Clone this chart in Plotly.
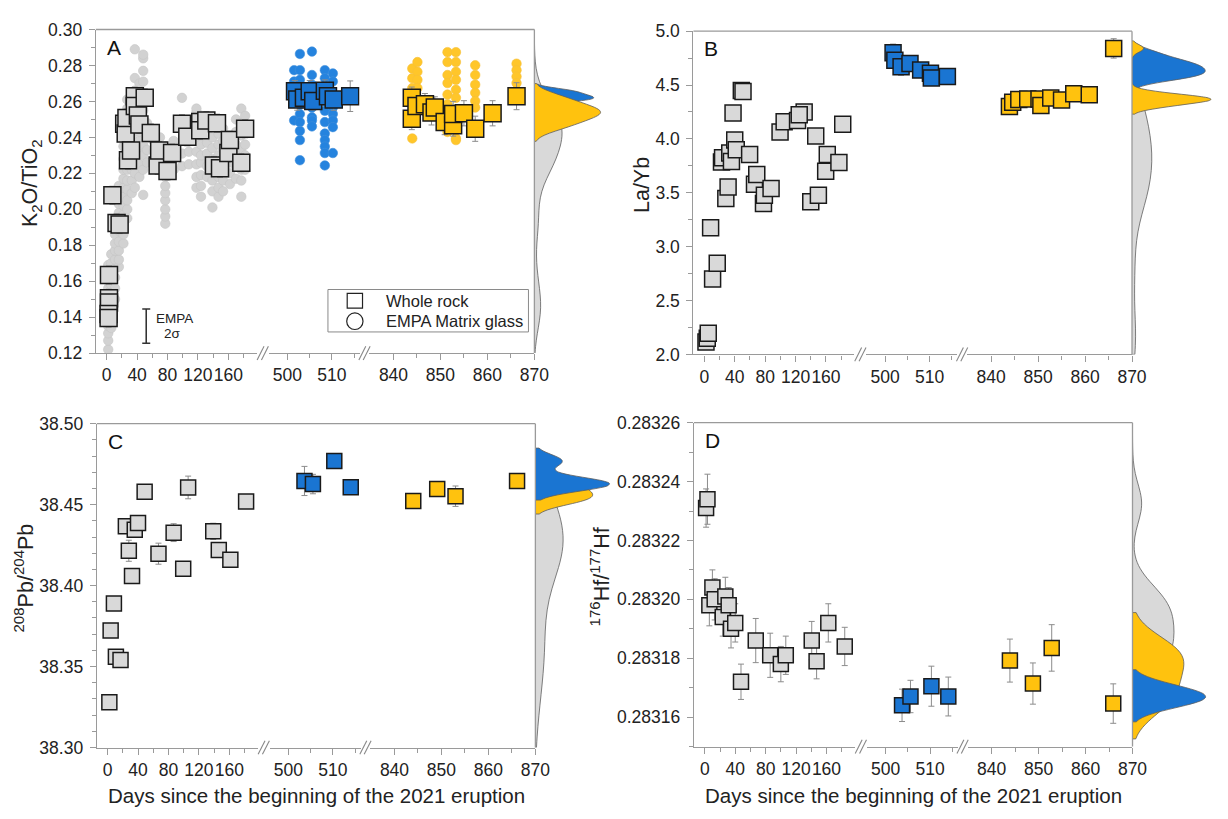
import plotly.graph_objects as go

W, H = 1228, 819

# ---------------- data ----------------
# Panel A: K2O/TiO2, whole rock (days, ratio, 2 s.e.)
a_gray_day = [3, 3, 3, 2.5, 2.5, 7.5, 13, 17, 23, 25, 26, 28, 32, 37, 37, 41, 43, 50, 58,
              67, 69, 80, 86, 99, 106, 123, 123, 131, 141, 145, 149, 160, 162, 177, 182]
a_gray_val = [0.1634, 0.1505, 0.1481, 0.1417, 0.1395, 0.2078, 0.1924, 0.1915, 0.2476, 0.2421,
              0.2508, 0.2273, 0.2327, 0.2629, 0.2575, 0.2521, 0.2472, 0.2620, 0.2425, 0.2244,
              0.2327, 0.2213, 0.2313, 0.2476, 0.2403, 0.2485, 0.2439, 0.2494, 0.2244, 0.2479,
              0.2228, 0.2313, 0.2385, 0.2259, 0.2448]
a_gray_err = [0.005] * len(a_gray_day)
a_blue_day = [501.7, 502.2, 503.7, 505.0, 505.8, 508.4, 509.1, 510.4, 514.1]
a_blue_val = [0.2656, 0.2611, 0.2620, 0.2656, 0.2602, 0.2660, 0.2629, 0.2611, 0.2629]
a_blue_err = [0.006, 0.006, 0.005, 0.006, 0.005, 0.006, 0.006, 0.006, 0.0085]
a_yel_day = [843.9, 843.9, 844.9, 846.7, 848.1, 848.8, 850.9, 852.7, 852.7, 855.0, 857.4, 861.1, 866.2]
a_yel_val = [0.2620, 0.2503, 0.2575, 0.2584, 0.2539, 0.2566, 0.2485, 0.2467, 0.2530, 0.2534,
             0.2448, 0.2534, 0.2629]
a_yel_err = [0.006, 0.006, 0.007, 0.006, 0.007, 0.006, 0.007, 0.006, 0.007, 0.007, 0.007, 0.007, 0.0075]

# Panel A: EMPA matrix glass, grouped by sampling day
glass_gray = [
    (2, [0.122, 0.127, 0.131, 0.135, 0.139, 0.144, 0.148, 0.152, 0.156, 0.160, 0.165, 0.169]),
    (6, [0.134, 0.141, 0.147, 0.153, 0.158, 0.164, 0.170, 0.175]),
    (11, [0.150, 0.156, 0.162, 0.167, 0.172, 0.177, 0.181, 0.186, 0.190]),
    (16, [0.168, 0.172, 0.177, 0.182, 0.188, 0.193, 0.198, 0.203, 0.208, 0.213]),
    (22, [0.181, 0.186, 0.192, 0.197, 0.202, 0.207, 0.212, 0.217, 0.222, 0.228, 0.235, 0.242, 0.249]),
    (27, [0.195, 0.200, 0.205, 0.211, 0.216, 0.222, 0.228, 0.233, 0.238, 0.244, 0.250, 0.256, 0.261]),
    (33, [0.209, 0.216, 0.222, 0.228, 0.234, 0.240, 0.246, 0.252, 0.258, 0.263]),
    (37, [0.212, 0.220, 0.228, 0.236, 0.244, 0.250, 0.256, 0.266, 0.273, 0.289]),
    (43, [0.218, 0.225, 0.231, 0.238, 0.243, 0.248, 0.255, 0.262, 0.270]),
    (48, [0.208, 0.222, 0.230, 0.236, 0.246, 0.255, 0.260, 0.264, 0.271, 0.277, 0.284, 0.286]),
    (53, [0.226, 0.233, 0.241, 0.248]),
    (62, [0.232, 0.238, 0.244]),
    (70, [0.226, 0.233, 0.240]),
    (77, [0.192, 0.196, 0.200, 0.205, 0.209, 0.213, 0.218, 0.222, 0.226, 0.230, 0.235]),
    (88, [0.222, 0.228, 0.233, 0.238]),
    (99, [0.224, 0.231, 0.262]),
    (108, [0.225, 0.232, 0.240, 0.247]),
    (118, [0.212, 0.218, 0.225, 0.232, 0.238, 0.244, 0.250, 0.254, 0.256]),
    (124, [0.207, 0.213, 0.219, 0.226, 0.230, 0.236, 0.242, 0.248, 0.252]),
    (132, [0.218, 0.224, 0.231, 0.237, 0.243, 0.250]),
    (139, [0.201, 0.210, 0.216, 0.222, 0.228, 0.234, 0.240, 0.246]),
    (147, [0.207, 0.212, 0.218, 0.224, 0.230, 0.236, 0.242, 0.248]),
    (153, [0.210, 0.216, 0.222, 0.228, 0.233, 0.238, 0.245]),
    (162, [0.214, 0.220, 0.226, 0.232, 0.238]),
    (170, [0.217, 0.224, 0.230, 0.236, 0.243, 0.250]),
    (177, [0.207, 0.216, 0.222, 0.228, 0.234, 0.241, 0.248, 0.256]),
    (182, [0.222, 0.230, 0.236, 0.245, 0.252]),
]
glass_blue = [
    (501.5, [0.2774, 0.2711, 0.2494]),
    (502.8, [0.2864, 0.2774, 0.2720, 0.2665, 0.2584, 0.2530, 0.2485, 0.2436, 0.2385, 0.2273]),
    (505.5, [0.2877, 0.2747, 0.2693, 0.2657, 0.2566, 0.2512, 0.2494, 0.2461]),
    (508.4, [0.2774, 0.2729, 0.2675, 0.2602, 0.2548, 0.2485, 0.2421, 0.2385, 0.2349, 0.2313, 0.2244]),
    (510.2, [0.2756, 0.2711, 0.2620, 0.2566, 0.2530, 0.2494, 0.2457, 0.2313]),
]
glass_yel = [
    (844.0, [0.2783, 0.2729, 0.2674, 0.2394]),
    (845.1, [0.2819, 0.2765, 0.2720, 0.2674]),
    (851.5, [0.2874, 0.2819, 0.2747, 0.2702, 0.2638, 0.2584, 0.2512, 0.2430]),
    (853.3, [0.2874, 0.2819, 0.2765, 0.2720, 0.2665, 0.2620, 0.2557, 0.2475, 0.2394, 0.2385]),
    (857.4, [0.2801, 0.2747, 0.2693, 0.2648, 0.2602, 0.2566]),
    (866.2, [0.2810, 0.2774, 0.2738, 0.2702]),
]
empa_2sigma = 0.019   # EMPA analytical uncertainty bar
empa_bar_at = (52, 0.135)

# Panel B: La/Yb, whole rock
b_gray_day = [2.2, 3.9, 5.2, 8.3, 10.9, 17, 22.6, 24, 33.5, 35.7, 40, 42, 37.8, 48.7, 50.9, 28.3,
              31.3, 59.6, 66, 69, 77.8, 79, 87.8, 99.6, 105, 122.6, 131.3, 124.8, 140, 150, 146.5,
              161.7, 159.6, 177, 182]
b_gray_val = [2.115, 2.15, 2.196, 3.176, 2.70, 2.845, 3.785, 3.824, 3.869, 3.79, 3.99, 3.90, 4.24,
              4.45, 4.44, 3.447, 3.553, 3.855, 3.58, 3.67, 3.40, 3.478, 3.54, 4.065, 4.16, 4.17,
              4.25, 4.225, 3.417, 3.478, 4.026, 3.855, 3.70, 3.78, 4.135]
b_gray_err = [0.03] * len(b_gray_day)
b_blue_day = [501.8, 502.2, 503.6, 505.6, 508.0, 510.2, 510.4, 514.0]
b_blue_val = [4.80, 4.73, 4.67, 4.70, 4.64, 4.61, 4.565, 4.58]
b_blue_err = [0.08, 0.06, 0.08, 0.06, 0.06, 0.06, 0.06, 0.07]
b_yel_day = [843.9, 844.6, 845.9, 847.8, 850.2, 850.6, 852.7, 855.0, 857.6, 860.9, 866.1]
b_yel_val = [4.30, 4.34, 4.365, 4.37, 4.37, 4.31, 4.38, 4.36, 4.42, 4.41, 4.84]
b_yel_err = [0.05, 0.05, 0.05, 0.05, 0.06, 0.05, 0.05, 0.05, 0.05, 0.06, 0.09]

# Panel C: 208Pb/204Pb
c_gray_day = [2.2, 3.9, 8.2, 10.8, 16.9, 23.9, 27.8, 32, 35.6, 39.9, 48.6, 66.8, 86.7, 99.3,
              105.8, 138.8, 146.1, 161.3, 182]
c_gray_val = [38.328, 38.3723, 38.389, 38.356, 38.354, 38.4366, 38.4215, 38.406, 38.4345,
              38.4386, 38.458, 38.4197, 38.4327, 38.4104, 38.4606, 38.4335, 38.422, 38.416, 38.452]
c_gray_err = [0.002, 0.002, 0.002, 0.002, 0.002, 0.003, 0.0065, 0.003, 0.004, 0.003, 0.003,
              0.0065, 0.0055, 0.002, 0.007, 0.005, 0.003, 0.003, 0.002]
c_blue_day = [503.6, 505.5, 510.3, 514.0]
c_blue_val = [38.4646, 38.4627, 38.4769, 38.4608]
c_blue_err = [0.009, 0.006, 0.002, 0.002]
c_yel_day = [844.0, 849.1, 853.0, 866.1]
c_yel_val = [38.4522, 38.4596, 38.4552, 38.4646]
c_yel_err = [0.003, 0.002, 0.0063, 0.002]

# Panel D: 176Hf/177Hf
d_gray_day = [1.7, 3.5, 6, 10, 13, 23.6, 27, 31.4, 34.5, 40, 47.6, 67, 86, 100, 106.5, 140.6,
              147, 162.4, 184]
d_gray_val = [0.283231, 0.283234, 0.283198, 0.283204, 0.283200, 0.283194, 0.283201, 0.283198,
              0.283190, 0.283192, 0.283172, 0.283186, 0.283181, 0.283178, 0.283181, 0.283186,
              0.283179, 0.283192, 0.283184]
d_gray_err = [0.0000065, 0.0000085, 0.000007, 0.000006, 0.000007, 0.0000065, 0.0000065, 0.000006,
              0.0000065, 0.0000065, 0.000006, 0.0000075, 0.0000075, 0.000006, 0.0000065, 0.0000065,
              0.000006, 0.0000065, 0.0000065]
d_blue_day = [503.7, 505.6, 510.3, 514.1]
d_blue_val = [0.283164, 0.283167, 0.2831705, 0.283167]
d_blue_err = [0.0000055, 0.0000055, 0.0000068, 0.0000066]
d_yel_day = [843.9, 848.8, 852.8, 865.9]
d_yel_val = [0.2831792, 0.2831714, 0.2831835, 0.2831646]
d_yel_err = [0.0000073, 0.000007, 0.0000079, 0.0000067]

x_title = "Days since the beginning of the 2021 eruption"
legend_labels = ["Whole rock", "EMPA Matrix glass"]

# ---------------- styling ----------------
GRAY, BLUE, YEL = "#d9d9d9", "#1a75d2", "#ffc20e"
GLASS_GRAY, GLASS_BLUE, GLASS_YEL = "#d2d2d2", "#2583de", "#ffc62a"
AXC = "#9a9a9a"
TXT = "#222222"
FONT = "Liberation Sans, Arial, sans-serif"

# segment geometry (px) of the broken time axis, and the matching day ranges
SEG_PX = [(97.0, 260.0), (272.0, 364.0), (374.0, 541.0)]
SEG_RANGE = [(-14.3, 197.4), (495.78, 516.2), (834.88, 870.0)]
SEG_MAJOR = [40, 10, 10]
SEG_MINOR = [[20, 60, 100, 140, 180], [505, 515], [845, 855, 865]]


def fx(p):
    return p / W


def fy(p):
    return 1 - p / H


def xn(n):
    return "x" if n == 1 else f"x{n}"


def yn(n):
    return "y" if n == 1 else f"y{n}"


panels = [
    dict(tag="A", dx=0.0, top=20.0, bot=351.7, yr=[0.12, 0.30], t0=0.12, dt=0.02, mdt=0.01, fmt=".2f",
         ytitle="K<sub>2</sub>O/TiO<sub>2</sub>", ytx=32, ms=17, dens_w=90),
    dict(tag="B", dx=605.0, top=21.7, bot=353.0, yr=[2.0, 5.0], t0=2.0, dt=0.5, mdt=0.25, fmt=".1f",
         ytitle="La/Yb", ytx=650, ms=16, dens_w=81),
    dict(tag="C", dx=1.0, top=424.0, bot=756.0, yr=[38.30, 38.50], t0=38.30, dt=0.05, mdt=0.01, fmt=".2f",
         ytitle="<sup>208</sup>Pb/<sup>204</sup>Pb", ytx=24, ms=15, dens_w=90),
    dict(tag="D", dx=605.5, top=423.0, bot=755.0, yr=[0.28315, 0.28326], t0=0.28316, dt=0.00002,
         mdt=0.00001, fmt=".5f", ytitle="<sup>176</sup>Hf/<sup>177</sup>Hf", ytx=607, ms=15, dens_w=81),
]

fig = go.Figure()
layout = {}
shapes = []
annos = []

tickfont = dict(family=FONT, size=17.5, color=TXT)

for i, P in enumerate(panels):
    xs = [4 * i + k for k in range(1, 5)]
    y = i + 1
    ydom = [fy(P["bot"]), fy(P["top"])]
    # time axis segments
    for k in range(3):
        a, b = SEG_PX[k]
        layout[("xaxis" if xs[k] == 1 else f"xaxis{xs[k]}")] = dict(
            domain=[fx(a + P["dx"]), fx(b + P["dx"])], anchor=yn(y), range=list(SEG_RANGE[k]),
            showline=True, linecolor=AXC, linewidth=1.3, showgrid=False, zeroline=False,
            ticks="outside", ticklen=6, tickwidth=1, tickcolor=AXC, tick0=0, dtick=SEG_MAJOR[k],
            tickfont=tickfont, tickangle=0,
            minor=dict(ticks="outside", ticklen=4, tickwidth=1, tickcolor=AXC,
                       tickmode="array", tickvals=SEG_MINOR[k], showgrid=False),
            fixedrange=True)
    # marginal density axis
    d0 = SEG_PX[2][1] + P["dx"]
    layout[f"xaxis{xs[3]}"] = dict(domain=[fx(d0), fx(min(d0 + P["dens_w"], W))], anchor=yn(y),
                                   range=[0, min(P["dens_w"], W - d0)], visible=False, fixedrange=True)
    layout[("yaxis" if y == 1 else f"yaxis{y}")] = dict(
        domain=ydom, anchor=xn(xs[0]), range=P["yr"], showline=True, linecolor=AXC, linewidth=1.3,
        showgrid=False, zeroline=False, ticks="outside", ticklen=6, tickwidth=1, tickcolor=AXC,
        tick0=P["t0"], dtick=P["dt"], tickformat=P["fmt"], tickfont=tickfont,
        ticklabelstandoff=3,
        minor=dict(ticks="outside", ticklen=4, tickwidth=1, tickcolor=AXC, dtick=P["mdt"],
                   tick0=P["yr"][0], showgrid=False),
        fixedrange=True)

    # frame: top and right edges
    x_left, x_right = SEG_PX[0][0] + P["dx"], SEG_PX[2][1] + P["dx"]
    shapes.append(dict(type="line", xref="paper", yref="paper", x0=fx(x_left), x1=fx(x_right),
                       y0=fy(P["top"]), y1=fy(P["top"]), line=dict(color=AXC, width=1.3)))
    shapes.append(dict(type="line", xref="paper", yref="paper", x0=fx(x_right), x1=fx(x_right),
                       y0=fy(P["bot"]), y1=fy(P["top"]), line=dict(color=AXC, width=1.3)))
    # axis-break marks
    for cx in (266.0, 369.0):
        for off in (-2.2, 2.2):
            c = cx + P["dx"] + off
            shapes.append(dict(type="line", xref="paper", yref="paper",
                               x0=fx(c - 3.5), x1=fx(c + 3.5), y0=fy(P["bot"] + 7), y1=fy(P["bot"] - 7),
                               line=dict(color="#888888", width=1.1)))
    # panel letter and axis titles
    annos.append(dict(text=P["tag"], x=fx(SEG_PX[0][0] + P["dx"] + 9), y=fy(P["top"] + 18),
                      xref="paper", yref="paper", xanchor="left", yanchor="middle", showarrow=False,
                      font=dict(family=FONT, size=21, color="#111")))
    annos.append(dict(text=P["ytitle"], x=fx(P["ytx"]), y=fy((P["top"] + P["bot"]) / 2 - 8),
                      xref="paper", yref="paper", textangle=-90, xanchor="center", yanchor="middle",
                      showarrow=False, font=dict(family=FONT, size=21.5, color=TXT)))
    if P["tag"] in ("C", "D"):
        annos.append(dict(text=x_title, x=fx(319 + P["dx"]), y=fy(805), xref="paper", yref="paper",
                          xanchor="center", yanchor="middle", showarrow=False,
                          font=dict(family=FONT, size=20.5, color=TXT)))


def expand(cols):
    xs, ys = [], []
    for d, vals in cols:
        xs += [d] * len(vals)
        ys += vals
    return xs, ys


def glass(cols, color, line, xa, ya):
    gx, gy = expand(cols)
    return go.Scatter(x=gx, y=gy, mode="markers", xaxis=xa, yaxis=ya, hoverinfo="skip",
                      marker=dict(symbol="circle", size=9.5, color=color, line=dict(color=line, width=0.6)),
                      showlegend=False)


def squares(days, vals, errs, color, size, xa, ya):
    return go.Scatter(x=days, y=vals, mode="markers", xaxis=xa, yaxis=ya, showlegend=False,
                      error_y=dict(type="data", array=errs, color="#8c8c8c", thickness=1, width=3),
                      marker=dict(symbol="square", size=size, color=color,
                                  line=dict(color="#1a1a1a", width=1.5)))


def density(vals, color, ext, bw, xa, ya, span=None):
    kw = dict(spanmode="manual", span=span) if span else dict(spanmode="soft")
    return go.Violin(y=vals, x0=0, side="positive", width=2 * ext, scalemode="width", bandwidth=bw,
                     fillcolor=color, line=dict(color="#5e5e5e", width=0.8), points=False,
                     box_visible=False, meanline_visible=False, hoverinfo="skip", opacity=1,
                     xaxis=xa, yaxis=ya, showlegend=False, **kw)


groups = [
    (a_gray_day, a_gray_val, a_gray_err, a_blue_day, a_blue_val, a_blue_err, a_yel_day, a_yel_val, a_yel_err),
    (b_gray_day, b_gray_val, b_gray_err, b_blue_day, b_blue_val, b_blue_err, b_yel_day, b_yel_val, b_yel_err),
    (c_gray_day, c_gray_val, c_gray_err, c_blue_day, c_blue_val, c_blue_err, c_yel_day, c_yel_val, c_yel_err),
    (d_gray_day, d_gray_val, d_gray_err, d_blue_day, d_blue_val, d_blue_err, d_yel_day, d_yel_val, d_yel_err),
]
# density settings per panel: (gray ext, bw, span), (blue ext, bw), (yellow ext, bw), yellow on top?
dens_cfg = [
    ((28, 0.011, [0.12, 0.30]), (60, 0.0018), (67, 0.0035), True),
    ((20, 0.25, [2.0, 4.6]), (74, 0.05), (80, 0.035), True),
    ((28, 0.02, [38.30, 38.47]), (75, 0.004), (58, 0.004), False),
    ((42, 0.0000065, [0.28315, 0.28326]), (74, 0.0000028), (52, 0.000006), False),
]

for i, P in enumerate(panels):
    xs = [xn(4 * i + k) for k in range(1, 5)]
    ya = yn(i + 1)
    gd, gv, ge, bd, bv, be, yd, yv, ye = groups[i]
    if i == 0:
        fig.add_trace(glass(glass_gray, GLASS_GRAY, "#c6c6c6", xs[0], ya))
        fig.add_trace(glass(glass_blue, GLASS_BLUE, "#3f8fdc", xs[1], ya))
        fig.add_trace(glass(glass_yel, GLASS_YEL, "#f5c03a", xs[2], ya))
        fig.add_trace(go.Scatter(x=[empa_bar_at[0]], y=[empa_bar_at[1]], mode="markers", xaxis=xs[0], yaxis=ya,
                                 marker=dict(size=1, color="rgba(0,0,0,0)"), showlegend=False, hoverinfo="skip",
                                 error_y=dict(type="constant", value=empa_2sigma / 2, color="#333333",
                                              thickness=1.6, width=4)))
    fig.add_trace(squares(gd, gv, ge, GRAY, P["ms"], xs[0], ya))
    fig.add_trace(squares(bd, bv, be, BLUE, P["ms"], xs[1], ya))
    fig.add_trace(squares(yd, yv, ye, YEL, P["ms"], xs[2], ya))
    (g_ext, g_bw, g_span), (b_ext, b_bw), (y_ext, y_bw), yel_top = dens_cfg[i]
    fig.add_trace(density(gv, GRAY, g_ext, g_bw, xs[3], ya, span=g_span))
    blue_tr = density(bv, BLUE, b_ext, b_bw, xs[3], ya)
    yel_tr = density(yv, YEL, y_ext, y_bw, xs[3], ya)
    for tr in ((blue_tr, yel_tr) if yel_top else (yel_tr, blue_tr)):
        fig.add_trace(tr)

# EMPA uncertainty label
annos.append(dict(text="EMPA", x=fx(156), y=fy(316.5), xref="paper", yref="paper", xanchor="left",
                  yanchor="middle", showarrow=False, font=dict(family=FONT, size=13.5, color=TXT)))
annos.append(dict(text="2σ", x=fx(175), y=fy(332), xref="paper", yref="paper", xanchor="center",
                  yanchor="middle", showarrow=False, font=dict(family=FONT, size=13.5, color=TXT)))

# legend box for panel A
shapes.append(dict(type="rect", xref="paper", yref="paper", x0=fx(332), x1=fx(535), y0=fy(330), y1=fy(286.5),
                   line=dict(color="#8a8a8a", width=1), fillcolor="white", layer="above"))
shapes.append(dict(type="rect", xref="paper", yref="paper", x0=fx(351.5), x1=fx(367), y0=fy(305.5), y1=fy(290.5),
                   line=dict(color="#222", width=1.2), layer="above"))
shapes.append(dict(type="circle", xref="paper", yref="paper", x0=fx(351), x1=fx(367.5), y0=fy(327.5), y1=fy(310.5),
                   line=dict(color="#222", width=1.2), layer="above"))
for lbl, yy in zip(legend_labels, (298, 319)):
    annos.append(dict(text=lbl, x=fx(389), y=fy(yy), xref="paper", yref="paper", xanchor="left",
                      yanchor="middle", showarrow=False, font=dict(family=FONT, size=16.5, color=TXT)))

fig.update_layout(width=W, height=H, margin=dict(l=0, r=0, t=0, b=0), paper_bgcolor="white",
                  plot_bgcolor="white", showlegend=False, violinmode="overlay", violingap=0,
                  violingroupgap=0, shapes=shapes, annotations=annos,
                  font=dict(family=FONT, color=TXT), **layout)

fig.write_html("out.html")
